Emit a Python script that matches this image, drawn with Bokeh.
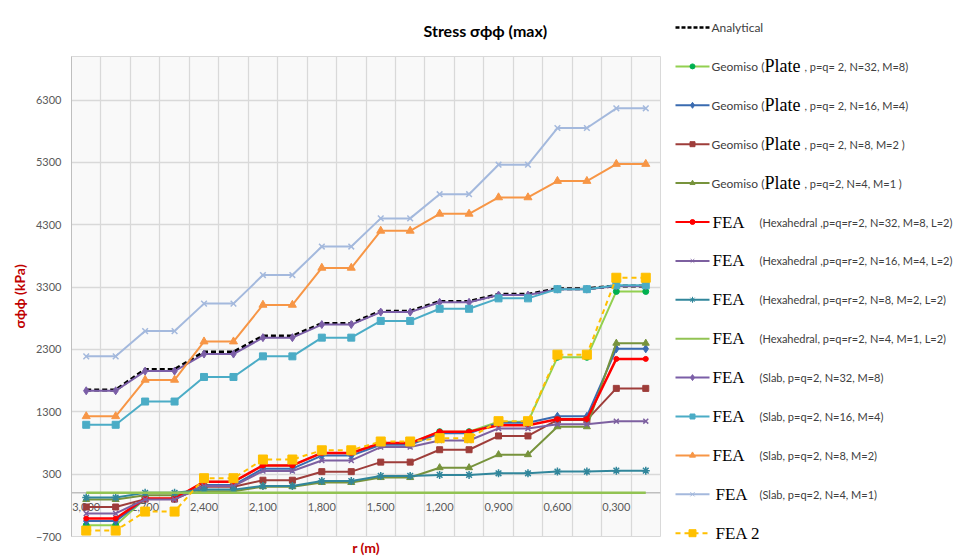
import numpy as np
from bokeh.plotting import figure
from bokeh.models import Range1d, FixedTicker, Span, Title
from bokeh.layouts import row, column
from bokeh.embed import file_html
from bokeh.resources import INLINE
from bokeh.core.properties import value

# ---------------- data ----------------
r_labels = ["3,000", "2,850", "2,700", "2,550", "2,400", "2,250", "2,100", "1,950", "1,800", "1,650",
            "1,500", "1,350", "1,200", "1,050", "0,900", "0,750", "0,600", "0,450", "0,300", "0,150"]
y_ticks = [-700, 300, 1300, 2300, 3300, 4300, 5300, 6300]

analytical   = [1650, 1650, 1980, 1980, 2259, 2259, 2516, 2516, 2716, 2716, 2915, 2915, 3070, 3070, 3185, 3185, 3275, 3275, 3320, 3320]
geomiso_n32  = [-520, -520, -95, -95, 178, 178, 440, 440, 640, 640, 798, 798, 982, 982, 1140, 1140, 2174, 2174, 3231, 3231]
geomiso_n16  = [-453, -453, -98, -98, 125, 125, 388, 388, 598, 598, 771, 771, 955, 955, 1124, 1124, 1228, 1228, 2311, 2311]
geomiso_n8   = [-227, -227, -100, -100, 99, 99, 203, 203, 340, 340, 493, 493, 692, 692, 913, 913, 1170, 1170, 1676, 1676]
geomiso_n4   = [-106, -106, -40, -40, 25, 25, 99, 99, 167, 167, 246, 246, 404, 404, 613, 613, 1061, 1061, 2401, 2401]
fea_hex_n32  = [-411, -411, -90, -90, 178, 178, 440, 440, 640, 640, 798, 798, 982, 982, 1086, 1086, 1181, 1181, 2149, 2149]
fea_hex_n16  = [-330, -330, -105, -105, 110, 110, 351, 351, 520, 520, 735, 735, 840, 840, 1034, 1034, 1102, 1102, 1150, 1150]
fea_hex_n8   = [-75, -75, 0, 0, 52, 52, 110, 110, 190, 190, 272, 272, 288, 288, 314, 314, 341, 341, 356, 356]
fea_hex_n4   = [0, 0, 0, 0, 0, 0, 0, 0, 0, 0, 0, 0, 0, 0, 0, 0, 0, 0, 0, 0]
fea_slab_n32 = [1638, 1638, 1953, 1953, 2227, 2227, 2490, 2490, 2700, 2700, 2900, 2900, 3057, 3057, 3173, 3173, 3268, 3268, 3320, 3320]
fea_slab_n16 = [1092, 1092, 1465, 1465, 1859, 1859, 2190, 2190, 2490, 2490, 2758, 2758, 2953, 2953, 3120, 3120, 3268, 3268, 3331, 3331]
fea_slab_n8  = [1228, 1228, 1812, 1812, 2427, 2427, 3015, 3015, 3609, 3609, 4203, 4203, 4476, 4476, 4739, 4739, 5002, 5002, 5275, 5275]
fea_slab_n4  = [2190, 2190, 2595, 2595, 3036, 3036, 3494, 3494, 3951, 3951, 4403, 4403, 4791, 4791, 5264, 5264, 5853, 5853, 6169, 6169]
fea_2        = [-605, -605, -300, -300, 235, 235, 535, 535, 683, 683, 824, 824, 877, 877, 1150, 1150, 2217, 2217, 3451, 3451]

legend_heads = ["Analytical", "Geomiso (", "Geomiso (", "Geomiso (", "Geomiso (", "", "", "", "", "", "", "", "", ""]
legend_serif = ["", "Plate", "Plate", "Plate", "Plate", "FEA", "FEA", "FEA", "FEA", "FEA", "FEA", "FEA", "FEA", "FEA 2"]
legend_tails = ["", ", p=q= 2, N=32, M=8)", ", p=q= 2, N=16, M=4)", ", p=q= 2, N=8, M=2 )", ", p=q=2, N=4, M=1 )",
                "(Hexahedral ,p=q=r=2, N=32, M=8, L=2)", "(Hexahedral ,p=q=r=2, N=16, M=4, L=2)",
                "(Hexahedral, p=q=r=2, N=8, M=2, L=2)", "(Hexahedral, p=q=r=2, N=4, M=1, L=2)",
                "(Slab, p=q=2, N=32, M=8)", "(Slab, p=q=2, N=16, M=4)", "(Slab, p=q=2, N=8, M=2)",
                "(Slab, p=q=2, N=4, M=1)", ""]

# style table (values, line color, width, dash, marker, marker size, marker fill)
series = [
    (analytical,   "#000000", 3.0, "5 3",   None,       0, None),
    (geomiso_n32,  "#92d050", 2.0, "solid", "circle",   6, "#00b050"),
    (geomiso_n16,  "#3a6bb0", 2.0, "solid", "diamond",  8, "#3a6bb0"),
    (geomiso_n8,   "#9e3d3a", 2.0, "solid", "square",   6, "#9e3d3a"),
    (geomiso_n4,   "#77933c", 2.0, "solid", "triangle", 7, "#77933c"),
    (fea_hex_n32,  "#ff0000", 2.5, "solid", "circle",   5, "#ff0000"),
    (fea_hex_n16,  "#7d60a0", 2.0, "solid", "x",        7, None),
    (fea_hex_n8,   "#31869b", 2.0, "solid", "asterisk", 8, None),
    (fea_hex_n4,   "#92c353", 2.5, "solid", None,       0, None),
    (fea_slab_n32, "#7b5ea7", 2.0, "solid", "diamond",  8, "#7b5ea7"),
    (fea_slab_n16, "#4bacc6", 2.0, "solid", "square",   7, "#4bacc6"),
    (fea_slab_n8,  "#f79646", 2.0, "solid", "triangle", 8, "#f79646"),
    (fea_slab_n4,  "#a4b9dd", 2.0, "solid", "x",        8, None),
    (fea_2,        "#ffc000", 2.0, "5 4",   "square",   9, "#ffc000"),
]

SANS = "Lato"
SERIF = "Liberation Serif"
x_idx = list(range(len(r_labels)))

# ---------------- layout constants (picture pixels) ----------------
O = 1                      # canvas origin in the picture
H = 556
W_MAIN, W_LEG = 669, 289
FL, FR, FT = 72, 661, 57   # plot-area edges

p = figure(width=W_MAIN, height=H, x_range=Range1d(-0.5, 19.5), y_range=Range1d(-700, 7000),
           output_backend="svg", toolbar_location=None,
           min_border_left=FL - O, min_border_right=O + W_MAIN - FR, min_border_top=FT - O,
           min_border_bottom=20)
p.background_fill_color = "#f9f9f9"
p.border_fill_color = "white"
p.outline_line_color = "#d9d9d9"

p.title.text = "Stress σϕϕ (max)"
p.title.align = "left"
p.title.offset = 352
p.title.standoff = 34
p.title.text_font = SANS
p.title.text_font_size = "16px"
p.title.text_font_style = "bold"
p.title.text_color = "#000000"

p.yaxis.ticker = FixedTicker(ticks=y_ticks)
p.yaxis.major_tick_line_color = None
p.yaxis.minor_tick_line_color = None
p.yaxis.major_label_standoff = 4
p.yaxis.axis_line_color = "#bfbfbf"
p.yaxis.major_label_text_font = SANS
p.yaxis.major_label_text_font_size = "11px"
p.yaxis.major_label_text_color = "#595959"
p.yaxis.axis_label = "σϕϕ (kPa)"
p.yaxis.axis_label_text_font = SANS
p.yaxis.axis_label_text_font_size = "14px"
p.yaxis.axis_label_text_font_style = "bold"
p.yaxis.axis_label_text_color = "#c00000"
p.yaxis.axis_label_standoff = 5

p.xaxis.visible = False
p.add_layout(Title(text="r (m)", align="center", standoff=0, text_font=SANS, text_font_size="14px",
                   text_font_style="bold", text_color="#c00000"), "below")

p.xgrid.ticker = FixedTicker(ticks=[i + 0.5 for i in range(len(r_labels) - 1)])
p.xgrid.grid_line_color = "#d9d9d9"
p.xgrid.grid_line_width = 1.3
p.ygrid.grid_line_color = "#d9d9d9"
p.ygrid.grid_line_width = 1.3

p.add_layout(Span(location=0, dimension="width", line_color="#bfbfbf", line_width=1.5, level="underlay"))

# category labels next to the horizontal axis (which crosses at 0)
p.text(x=x_idx[::2], y=[0] * len(x_idx[::2]), text=r_labels[::2], text_align="center",
       text_baseline="middle", y_offset=14, text_font=value(SANS), text_font_size="11px",
       text_color="#595959")

for vals, col, lw, dash, mk, ms, fill in series:
    p.line(x_idx, vals, line_color=col, line_width=lw, line_dash=dash)
    if mk is not None:
        p.scatter(x_idx, vals, marker=mk, size=ms, line_color=col if fill is None else fill,
                  fill_color=fill if fill is not None else None, line_width=1.5 if fill is None else 1)

# ---------------- legend panel (picture pixel coordinates) ----------------
lg = figure(width=W_LEG, height=H, x_range=Range1d(O + W_MAIN, O + W_MAIN + W_LEG),
            y_range=Range1d(O + H, O), output_backend="svg", toolbar_location=None,
            min_border=0, x_axis_type=None, y_axis_type=None)
lg.grid.visible = False
lg.outline_line_color = None
lg.background_fill_color = "white"
lg.border_fill_color = "white"

ROW0, STEP = 28, 38.9
for k, (vals, col, lw, dash, mk, ms, fill) in enumerate(series):
    yk = ROW0 + STEP * k
    lg.line([676, 710], [yk, yk], line_color=col, line_width=2.5 if k == 0 else 2,
            line_dash=("4 2" if k == 0 else dash))
    if mk is not None:
        lg.scatter([693], [yk], marker=mk, size=max(ms - 2, 5), line_color=col if fill is None else fill,
                   fill_color=fill if fill is not None else None)
    if legend_heads[k]:
        lg.text([712], [yk], text=[legend_heads[k]], text_baseline="middle", text_font=value(SANS),
                text_font_size="12px", text_color="#404040")
    if legend_serif[k]:
        sxp = 765 if legend_heads[k] else (716 if k in (12, 13) else 713)
        lg.text([sxp], [yk], text=[legend_serif[k]], text_baseline="middle", text_font=value(SERIF),
                text_font_size="18px" if legend_heads[k] else "17px", text_color="#000000")
    if legend_tails[k]:
        tx = 805 if legend_heads[k] else 760
        lg.text([tx], [yk], text=[legend_tails[k]], text_baseline="middle", text_font=value(SANS),
                text_font_size="11px", text_color="#404040")

layout = row(p, column(lg))
open("out.html", "w").write(file_html(layout, INLINE))
